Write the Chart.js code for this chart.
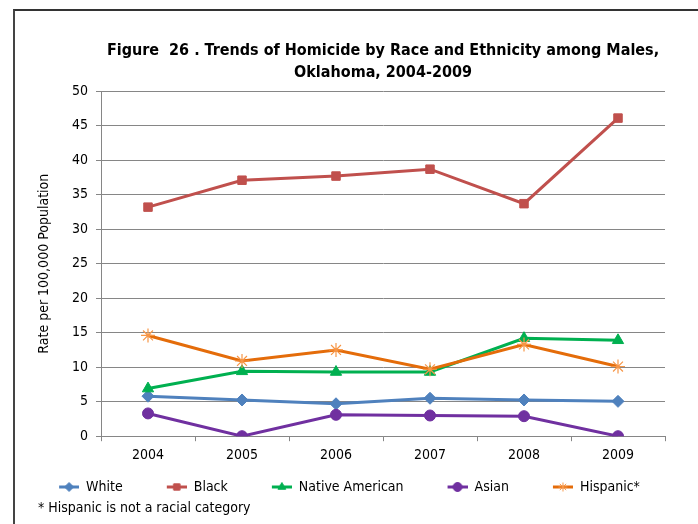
<!DOCTYPE html>
<html>
<head>
<meta charset="utf-8">
<script src="https://cdn.jsdelivr.net/npm/chart.js@4/dist/chart.umd.min.js"></script>
<style>
  body { margin: 0; background: #fff; }
  #wrap { position: relative; width: 698px; height: 524px; }
  #frame { position: absolute; left: 13px; top: 9px; right: 0; bottom: 0; border-left: 2px solid #444; border-top: 2px solid #333; }
  #note { position: absolute; left: 38px; top: 499px; font: 14px "Liberation Sans Narrow", "DejaVu Sans Condensed", "Roboto Condensed", Arial, sans-serif; color: #000; }
  canvas { position: absolute; left: 0; top: 0; }
</style>
</head>
<body>
<div id="wrap">
  <div id="frame"></div>
  <canvas id="chart" width="698" height="524"></canvas>
  <div id="note">* Hispanic is not a racial category</div>
</div>
<script>
const years = ['2004', '2005', '2006', '2007', '2008', '2009'];
const white = [5.8, 5.25, 4.7, 5.5, 5.25, 5.05];
const black = [33.2, 37.1, 37.7, 38.7, 33.7, 46.1];
const nativeAmerican = [6.9, 9.4, 9.3, 9.3, 14.2, 13.9];
const asian = [3.3, 0, 3.1, 3.0, 2.9, 0];
const hispanic = [14.6, 10.9, 12.5, 9.7, 13.3, 10.1];
const yTicks = [0, 5, 10, 15, 20, 25, 30, 35, 40, 45, 50];

const fontFamily = '"Liberation Sans Narrow", "DejaVu Sans Condensed", "Roboto Condensed", Arial, sans-serif';
Chart.defaults.font.family = fontFamily;
Chart.defaults.color = '#000';

// legend icon: short line with the marker in the middle, empty gap on the left
function legendIcon(color, markerColor, style) {
    var c = document.createElement('canvas');
    c.width = 54; c.height = 14;
    var ctx = c.getContext('2d');
    ctx.strokeStyle = color;
    ctx.lineWidth = 3;
    ctx.beginPath();
    ctx.moveTo(34, 7); ctx.lineTo(54, 7);
    ctx.stroke();
    ctx.fillStyle = markerColor;
    ctx.strokeStyle = markerColor;
    ctx.lineWidth = 1;
    Chart.helpers.drawPoint(ctx, { pointStyle: style, radius: 4.5, borderWidth: 1 }, 44, 7);
    return c;
}

function series(label, data, color, style, radius, order, markerColor) {
    return {
        label: label,
        data: data,
        borderColor: color,
        backgroundColor: markerColor || color,
        borderWidth: 3,
        pointStyle: style,
        pointRadius: radius,
        pointBorderColor: markerColor || color,
        pointBackgroundColor: markerColor || color,
        pointBorderWidth: style === 'star' ? 1.2 : 1,
        tension: 0,
        order: order,
        icon: legendIcon(color, markerColor || color, style)
    };
}

new Chart(document.getElementById('chart'), {
    type: 'line',
    data: {
        labels: years,
        datasets: [
            series('White', white, '#4F81BD', 'rectRot', 6, 5),
            series('Black', black, '#C0504D', 'rect', 6, 4),
            series('Native American', nativeAmerican, '#00B050', 'triangle', 6.5, 3),
            series('Asian', asian, '#7030A0', 'circle', 5.5, 2),
            series('Hispanic*', hispanic, '#E46C0A', 'star', 7, 1, '#F79646')
        ]
    },
    options: {
        responsive: false,
        animation: false,
        layout: { padding: { left: 0, right: 33, top: 0, bottom: 20 } },
        plugins: {
            title: {
                display: true,
                text: ['Figure  26 . Trends of Homicide by Race and Ethnicity among Males,', 'Oklahoma, 2004-2009'],
                font: { size: 16, weight: 'bold', lineHeight: 1.35 },
                color: '#000',
                fullSize: false,
                padding: { top: 40, bottom: 8 }
            },
            legend: {
                position: 'bottom',
                labels: {
                    usePointStyle: true,
                    pointStyleWidth: 54,
                    padding: 10,
                    font: { size: 14 },
                    color: '#000',
                    generateLabels: function(chart) {
                        return chart.data.datasets.map(function(ds, i) {
                            return {
                                text: ds.label,
                                pointStyle: ds.icon,
                                fillStyle: ds.borderColor,
                                strokeStyle: ds.borderColor,
                                lineWidth: 0,
                                datasetIndex: i,
                                hidden: false
                            };
                        });
                    }
                }
            },
            tooltip: { enabled: false }
        },
        scales: {
            x: {
                offset: true,
                grid: {
                    display: true,
                    drawOnChartArea: false,
                    drawTicks: true,
                    tickLength: 5,
                    offset: true,
                    color: '#868686'
                },
                border: { color: '#868686', width: 1 },
                ticks: { font: { size: 14 }, padding: 6, color: '#000' }
            },
            y: {
                min: 0,
                max: 50,
                afterBuildTicks: function(scale) {
                    scale.ticks = yTicks.map(function(v) { return { value: v }; });
                },
                afterFit: function(scale) { scale.width = 101; },
                grid: { color: '#868686', tickLength: 5 },
                border: { color: '#868686', width: 1 },
                ticks: { font: { size: 14 }, padding: 8, color: '#000' },
                title: {
                    display: true,
                    text: 'Rate per 100,000 Population',
                    font: { size: 14 },
                    color: '#000',
                    padding: { top: 36, bottom: 0 }
                }
            }
        }
    }
});
</script>
</body>
</html>
